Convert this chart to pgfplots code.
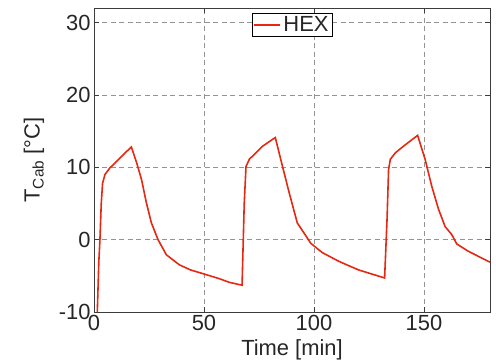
\documentclass[border=0pt]{standalone}
\usepackage{pgfplots}
\pgfplotsset{compat=1.18}
\usepackage{fontspec}
\setmainfont{Liberation Sans}
\definecolor{hexred}{RGB}{228,40,18}
\definecolor{axgray}{RGB}{60,60,60}
\begin{document}
\begin{tikzpicture}
\useasboundingbox (-94bp,-51bp) rectangle (402bp,312bp);
\begin{axis}[
  at={(0,0)}, anchor=south west,
  scale only axis, width=396bp, height=304bp,
  xmin=0, xmax=180, ymin=-10, ymax=32,
  xtick={0,50,100,150}, ytick={-10,0,10,20,30},
  tick align=inside, xtick pos=both, ytick pos=both,
  major tick length=5bp,
  axis line style={axgray, line width=0.9pt},
  tick style={axgray, line width=0.7pt},
  grid=major,
  major grid style={gray!85, line width=0.6pt, dash pattern=on 5bp off 3.5bp},
  /pgf/number format/assume math mode=true,
  tick label style={font=\fontsize{22}{26}\selectfont, text=black!85},
  xlabel={Time [min]},
  ylabel={T\textsubscript{Cab} [°C]},
  every axis x label/.style={at={(axis description cs:0.5,-0.125)}, anchor=center, font=\fontsize{22}{26}\selectfont, text=black!85},
  every axis y label/.style={at={(axis description cs:-0.1515,0.5)}, anchor=center, rotate=90, font=\fontsize{22}{26}\selectfont, text=black!85},
  legend style={at={(0.5,0.985)}, anchor=north, draw=black,
    font=\fontsize{22}{26}\selectfont, inner sep=1.5pt, text=black!85},
  legend cell align=left,
  legend image code/.code={\pgfsetlinewidth{2pt}\draw[#1, line width=2pt] (0bp,0bp) -- (26bp,0bp);},
]
\addplot[hexred, line width=1.6pt] coordinates {
(1.5,-10) (2.2,-3) (2.7,0) (3.3,5) (3.9,7.8) (5,9) (7.2,9.9) (10.3,10.8)
(13.5,11.8) (17,12.8) (19.5,10.5) (21.6,8.3) (23.8,5.1) (26.1,2.3) (29.1,0)
(32.9,-2.1) (38.9,-3.5) (44,-4.2) (49.5,-4.7) (57,-5.4) (61.5,-5.9) (67.3,-6.3)
(68.3,5.1) (69.1,10.1) (70.6,11.1) (73.6,12.0) (76.6,12.9) (82.4,14.1)
(85.7,10.1) (88.7,6.5) (92.4,2.3) (95.5,0.9) (98.5,-0.5) (103.8,-1.8)
(111.3,-3.0) (115.8,-3.6) (120.4,-4.2) (132.1,-5.3)
(133.2,2.8) (133.9,9.7) (134.7,11.1) (137,12.0) (141.5,13.1) (147.1,14.4)
(150.5,11.1) (153.5,7.4) (156.6,4.2) (159.6,1.8) (162.6,0.7) (164.9,-0.6)
(170.1,-1.6) (179.2,-3.0) (180,-3.1)
};
\addlegendentry{HEX}
\end{axis}
\end{tikzpicture}
\end{document}
